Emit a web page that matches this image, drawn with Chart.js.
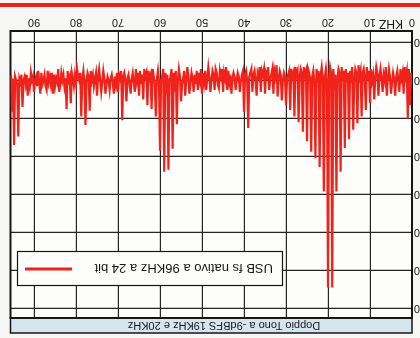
<!DOCTYPE html>
<html>
<head>
<meta charset="utf-8">
<title>Doppio Tono a -9dBFS 19KHz e 20KHz</title>
<script src="https://cdn.jsdelivr.net/npm/chart.js@4/dist/chart.umd.min.js"></script>
<style>
    html, body { margin: 0; padding: 0; }
    body {
        width: 420px;
        height: 338px;
        overflow: hidden;
        position: relative;
        background: #f6f6f4;
    }
    /* the scan is upside down, so the whole sheet is turned round */
    .sheet {
        position: absolute;
        left: 0;
        top: 0;
        width: 460px;
        height: 338px;
        transform: rotate(180deg);
    }
    .stripe {
        position: absolute;
        left: 0;
        top: 3px;
        width: 420px;
        height: 4px;
        background: #e8231b;
        z-index: 2;
    }
</style>
</head>
<body>
<div class="sheet"><canvas id="spectrumChart" width="460" height="338"></canvas></div>
<div class="stripe"></div>
<script>
// Texts
const chartTitle = 'Doppio Tono a -9dBFS 19KHz e 20KHz';
const seriesLabel = 'USB fs nativo a 96KHz a 24 bit';

// FFT bin spacing (kHz) and axis ticks
const binKHz = 0.25;
const freqTicks = [0, 10, 20, 30, 40, 50, 60, 70, 80, 90];
const levelTicks = [0, -20, -40, -60, -80, -100, -120, -140];

// Noise floor, one value per bin (dB), 0 .. 95.5 kHz
const noiseDb = [
    // 0 - 10 kHz
    -118,-124,-121,-126,-120,-125,-122,-127,-119,-124,
    -121,-126,-123,-120,-125,-122,-128,-121,-124,-119,
    -125,-122,-126,-121,-124,-127,-120,-123,-125,-121,
    -126,-122,-119,-124,-127,-121,-125,-123,-120,-126,
    // 10 - 20 kHz
    -122,-125,-120,-127,-123,-121,-126,-124,-119,-125,
    -122,-128,-121,-124,-126,-120,-123,-127,-122,-125,
    -121,-124,-119,-126,-123,-125,-120,-127,-122,-124,
    -126,-121,-125,-123,-119,-126,-122,-124,-127,-121,
    // 20 - 30 kHz
    -124,-120,-126,-122,-125,-121,-127,-123,-120,-125,
    -122,-126,-124,-119,-125,-122,-128,-121,-124,-126,
    -120,-125,-123,-127,-121,-124,-126,-122,-119,-125,
    -123,-127,-121,-124,-122,-126,-120,-125,-123,-121,
    // 30 - 40 kHz
    -126,-122,-124,-120,-127,-123,-125,-121,-124,-128,
    -122,-125,-120,-126,-123,-121,-125,-127,-122,-124,
    -119,-126,-123,-125,-121,-127,-122,-124,-126,-120,
    -125,-123,-121,-126,-124,-122,-127,-120,-125,-123,
    // 40 - 50 kHz
    -121,-125,-123,-119,-126,-122,-124,-120,-127,-122,
    -124,-121,-126,-123,-119,-125,-122,-127,-121,-124,
    -120,-126,-122,-125,-123,-118,-124,-126,-121,-123,
    -125,-120,-124,-122,-127,-121,-123,-125,-119,-124,
    // 50 - 60 kHz
    -122,-126,-120,-124,-121,-125,-118,-123,-126,-121,
    -124,-119,-125,-122,-127,-120,-123,-125,-121,-118,
    -124,-122,-126,-120,-123,-125,-119,-124,-121,-126,
    -122,-120,-125,-123,-118,-124,-121,-126,-122,-120,
    // 60 - 70 kHz
    -123,-119,-125,-121,-124,-118,-122,-126,-120,-123,
    -121,-125,-119,-124,-122,-126,-120,-123,-118,-125,
    -121,-124,-120,-126,-122,-119,-124,-121,-125,-118,
    -123,-121,-126,-120,-124,-122,-119,-125,-121,-123,
    // 70 - 80 kHz
    -120,-124,-118,-122,-125,-119,-123,-121,-126,-120,
    -122,-118,-124,-121,-125,-119,-123,-120,-126,-122,
    -119,-124,-121,-117,-123,-120,-125,-118,-122,-124,
    -120,-123,-119,-125,-121,-117,-124,-120,-122,-126,
    // 80 - 90 kHz
    -119,-123,-117,-121,-124,-118,-122,-120,-125,-119,
    -121,-117,-123,-120,-124,-118,-122,-126,-119,-121,
    -117,-123,-120,-124,-118,-122,-119,-125,-121,-117,
    -123,-120,-118,-124,-121,-119,-125,-117,-122,-120,
    // 90 - 95.5 kHz
    -118,-122,-120,-124,-117,-121,-119,-123,-118,-122,
    -120,-116,-123,-119,-121,-125,-118,-120,-122,-117,
    -121,-119,-123
];

// Tones and intermodulation spurs (kHz / dB)
const spurKHz = [
    0.5, 1, 2, 3, 4, 5, 6, 7, 8, 9,
    10, 11, 12, 13, 14, 15, 16, 17, 18, 19,
    20, 21, 22, 23, 24, 25, 26, 27, 28, 29,
    30, 31, 32, 33, 34, 35, 36, 37, 38, 39,
    40, 41, 42, 43, 44, 45, 46, 47, 48, 49,
    50, 51, 52, 53, 54, 55, 56, 57, 58, 59,
    60, 61, 62, 63, 64, 65, 66, 67, 68, 69,
    70, 71, 72, 73, 74, 75, 76.75, 77.75, 78.75, 81.25,
    82.25, 84, 85.5, 87, 88.5, 90, 91.5, 92.75, 93.75, 94.75,
    95.25
];
const spurDb = [
    -107, -100, -113, -114, -112, -113, -112, -114, -112, -110,
    -108, -104.5, -101, -97.5, -94, -89, -84.5, -72, -61.5, -11,
    -11, -61.5, -74.5, -79, -82.5, -88, -93, -98, -101, -104.5,
    -107, -109.5, -111.5, -113, -115, -113, -114, -112, -114, -95,
    -103.5, -114, -115, -113, -115, -114, -116, -115, -114, -115,
    -113, -115, -114, -113, -112, -109, -97, -84, -73, -72,
    -83, -101, -105, -107, -110, -112, -114, -113, -109, -99,
    -114, -113, -115, -113, -114, -112, -104, -96.5, -101, -108,
    -105, -114, -113, -115, -113, -114, -112, -106, -90.5, -86,
    -103.5
];

const FONT = '"Liberation Sans", Arial, sans-serif';
const INK = '#161616';
const RED = '#f0221a';

// Build the trace: noise floor with the spurs put in their bins
function buildTrace() {
    const levels = noiseDb.slice();
    spurKHz.forEach((f, i) => {
        levels[Math.round(f / binKHz)] = spurDb[i];
    });
    return levels.map((v, i) => ({ x: i * binKHz, y: v }));
}

// Paper, title band, frame and the boxed legend
const sheetPlugin = {
    id: 'sheet',
    beforeDraw(chart) {
        const { ctx, chartArea: a } = chart;
        ctx.save();
        ctx.fillStyle = '#fdfdfc';
        ctx.fillRect(a.left, a.top, a.right - a.left, a.bottom - a.top);

        // title band
        ctx.fillStyle = '#d4e5ee';
        ctx.fillRect(a.left, 5, a.right - a.left, a.top - 5);
        ctx.strokeStyle = INK;
        ctx.lineWidth = 1.5;
        ctx.strokeRect(a.left, 5, a.right - a.left, a.top - 5);
        ctx.fillStyle = INK;
        ctx.font = '11px ' + FONT;
        ctx.textAlign = 'center';
        ctx.textBaseline = 'middle';
        ctx.fillText(chartTitle, a.left + 188, 13);
        ctx.restore();
    },
    beforeDatasetsDraw(chart) {
        const { ctx, chartArea: a } = chart;
        ctx.save();
        ctx.strokeStyle = INK;
        ctx.lineWidth = 2;
        ctx.strokeRect(a.left, a.top, a.right - a.left, a.bottom - a.top);
        ctx.restore();
    },
    afterDatasetsDraw(chart) {
        const { ctx, chartArea: a } = chart;
        const left = a.left + 129, top = a.top + 32, w = 265, h = 34;
        ctx.save();
        ctx.fillStyle = '#fdfdfc';
        ctx.fillRect(left, top, w, h);
        ctx.strokeStyle = INK;
        ctx.lineWidth = 1.2;
        ctx.strokeRect(left + 0.5, top + 0.5, w, h);
        ctx.fillStyle = INK;
        ctx.font = '13px ' + FONT;
        ctx.textAlign = 'left';
        ctx.textBaseline = 'middle';
        ctx.fillText(seriesLabel, left + 10, top + h / 2 + 1);
        ctx.strokeStyle = RED;
        ctx.lineWidth = 3;
        ctx.beginPath();
        ctx.moveTo(left + 211, top + h / 2);
        ctx.lineTo(left + 258, top + h / 2);
        ctx.stroke();
        ctx.restore();
    },
    afterDraw(chart) {
        // unit next to the zero of the frequency axis
        const { ctx, chartArea: a } = chart;
        const x0 = chart.scales.x.getPixelForValue(0);
        ctx.save();
        ctx.fillStyle = INK;
        ctx.font = '12px ' + FONT;
        ctx.textAlign = 'left';
        ctx.textBaseline = 'top';
        ctx.fillText('KHZ', x0 + 9, a.bottom + 2);
        ctx.restore();
    }
};

let spectrumChart = null;

function initSpectrumChart() {
    const ctx = document.getElementById('spectrumChart');
    if (!ctx) return;

    if (spectrumChart) {
        spectrumChart.destroy();
    }

    spectrumChart = new Chart(ctx, {
        type: 'line',
        data: {
            datasets: [{
                label: seriesLabel,
                data: buildTrace(),
                borderColor: RED,
                borderWidth: 2.2,
                pointRadius: 0,
                tension: 0,
                fill: false
            }]
        },
        options: {
            responsive: false,
            animation: false,
            events: [],
            layout: { padding: { top: 20, right: 10.5, bottom: 0, left: 0 } },
            plugins: {
                legend: { display: false },
                title: { display: false },
                tooltip: { enabled: false }
            },
            scales: {
                x: {
                    type: 'linear',
                    min: 0,
                    max: 95.6,
                    afterFit: s => { s.height = 31; },
                    afterBuildTicks: s => { s.ticks = freqTicks.map(v => ({ value: v })); },
                    grid: { color: '#262626', lineWidth: 1.2, drawTicks: false },
                    border: { display: false },
                    ticks: {
                        autoSkip: false,
                        maxRotation: 0,
                        padding: 2,
                        color: INK,
                        font: { family: FONT, size: 11 },
                        callback: v => String(v)
                    }
                },
                y: {
                    min: -146,
                    max: 5,
                    afterFit: s => { s.width = 48; },
                    afterBuildTicks: s => { s.ticks = levelTicks.map(v => ({ value: v })); },
                    grid: { color: '#262626', lineWidth: 1.2, drawTicks: false },
                    border: { display: false },
                    ticks: {
                        padding: 2,
                        color: INK,
                        font: { family: FONT, size: 11 },
                        callback: v => String(v)
                    }
                }
            }
        },
        plugins: [sheetPlugin]
    });
}

initSpectrumChart();
</script>
</body>
</html>
